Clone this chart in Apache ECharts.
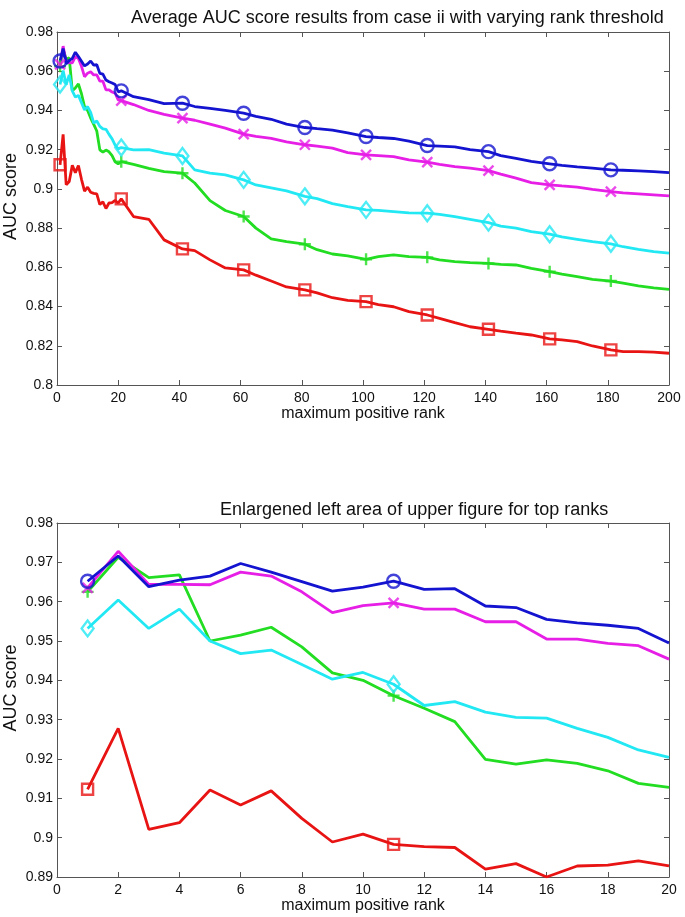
<!DOCTYPE html>
<html>
<head>
<meta charset="utf-8">
<script src="https://cdn.jsdelivr.net/npm/echarts@6/dist/echarts.min.js"></script>
<style>
html,body{margin:0;padding:0;background:#fff;}
#chart{width:685px;height:917px;}
</style>
</head>
<body>
<div id="chart"></div>
<script>
// ---- data ----
// ranks 1..20 (shown in both panels)
var topRanks = [1,2,3,4,5,6,7,8,9,10,11,12,13,14,15,16,17,18,19,20];
var blueTop   = [0.9652,0.9716,0.9638,0.9655,0.9665,0.9697,0.9675,0.9651,0.9627,0.9637,0.9652,0.9631,0.9633,0.9589,0.9585,0.9555,0.9546,0.9540,0.9532,0.9495];
var magentaTop= [0.9635,0.9728,0.9644,0.9644,0.9643,0.9675,0.9665,0.9625,0.9572,0.9590,0.9597,0.9581,0.9581,0.9549,0.9549,0.9505,0.9505,0.9494,0.9488,0.9454];
var cyanTop   = [0.9532,0.9604,0.9532,0.9581,0.9500,0.9468,0.9477,0.9440,0.9403,0.9420,0.9390,0.9336,0.9346,0.9319,0.9306,0.9304,0.9278,0.9255,0.9223,0.9204];
var greenTop  = [0.9625,0.9713,0.9661,0.9668,0.9500,0.9515,0.9535,0.9485,0.9419,0.9400,0.9361,0.9329,0.9295,0.9199,0.9187,0.9198,0.9189,0.9170,0.9138,0.9128];
var redTop    = [0.9123,0.9278,0.9021,0.9038,0.9121,0.9083,0.9119,0.9049,0.8989,0.9009,0.8983,0.8977,0.8975,0.8920,0.8934,0.8900,0.8928,0.8930,0.8941,0.8928];
// ranks beyond 20 (upper panel only)
var restRanks = [21,25,30,35,41,45,50,55,61,65,70,75,81,85,90,95,101,105,110,115,121,125,130,135,141,145,150,155,161,165,170,175,181,185,190,195,200];
var blueRest   = [0.9500,0.9470,0.9455,0.9435,0.9437,0.9420,0.9410,0.9400,0.9386,0.9370,0.9355,0.9330,0.9313,0.9307,0.9300,0.9285,0.9267,0.9262,0.9257,0.9243,0.9221,0.9218,0.9214,0.9200,0.9190,0.9170,0.9155,0.9140,0.9128,0.9120,0.9112,0.9106,0.9097,0.9095,0.9092,0.9088,0.9083];
var magentaRest= [0.9450,0.9430,0.9400,0.9380,0.9361,0.9350,0.9330,0.9310,0.9279,0.9268,0.9258,0.9240,0.9225,0.9218,0.9208,0.9185,0.9173,0.9170,0.9165,0.9148,0.9136,0.9125,0.9114,0.9106,0.9093,0.9075,0.9055,0.9032,0.9020,0.9015,0.9009,0.8998,0.8986,0.8980,0.8975,0.8970,0.8964];
var cyanRest   = [0.9211,0.9199,0.9200,0.9182,0.9168,0.9097,0.9080,0.9071,0.9046,0.9020,0.9005,0.8990,0.8962,0.8950,0.8925,0.8910,0.8893,0.8890,0.8884,0.8878,0.8876,0.8870,0.8859,0.8845,0.8828,0.8810,0.8800,0.8782,0.8769,0.8755,0.8743,0.8731,0.8720,0.8705,0.8692,0.8680,0.8672];
var greenRest  = [0.9139,0.9125,0.9105,0.9088,0.9080,0.9030,0.8940,0.8890,0.8859,0.8800,0.8745,0.8731,0.8718,0.8690,0.8668,0.8658,0.8641,0.8655,0.8663,0.8655,0.8651,0.8638,0.8629,0.8624,0.8620,0.8615,0.8612,0.8595,0.8578,0.8565,0.8553,0.8539,0.8530,0.8520,0.8505,0.8495,0.8488];
var redRest    = [0.8949,0.8859,0.8845,0.8740,0.8694,0.8685,0.8638,0.8597,0.8587,0.8560,0.8530,0.8500,0.8485,0.8470,0.8445,0.8432,0.8425,0.8410,0.8399,0.8374,0.8357,0.8340,0.8318,0.8297,0.8284,0.8275,0.8264,0.8255,0.8235,0.8230,0.8221,0.8199,0.8179,0.8170,0.8170,0.8168,0.8162];
var upperMarkerRanks = [1,21,41,61,81,101,121,141,161,181];
var lowerMarkerRanks = [1,11];
var upperYTicks = {min:0.8, max:0.98, interval:0.02};
var lowerYTicks = {min:0.89, max:0.98, interval:0.01};
var upperXTicks = {min:0, max:200, interval:20};
var lowerXTicks = {min:0, max:20, interval:2};

// ---- styling ----
var FONT = 'Liberation Sans, Arial, Helvetica, sans-serif';
var AXC = '#555';
var seriesDefs = [
  {name:'red',     color:'#e81414', top:redTop,     rest:redRest,     symbol:'rect', size:11},
  {name:'green',   color:'#22dd22', top:greenTop,   rest:greenRest,   symbol:'path://M5,0L5,10M0,5L10,5', size:12},
  {name:'cyan',    color:'#22e8f4', top:cyanTop,    rest:cyanRest,    symbol:'diamond', size:[12,16]},
  {name:'magenta', color:'#e61ee6', top:magentaTop, rest:magentaRest, symbol:'path://M0,0L10,10M10,0L0,10', size:10},
  {name:'blue',    color:'#1414d0', top:blueTop,    rest:blueRest,    symbol:'circle', size:13}
];

function pairs(xs, ys){ return xs.map(function(x,i){ return [x, ys[i]]; }); }
function pick(data, ranks){ return data.filter(function(p){ return ranks.indexOf(p[0]) >= 0; }); }

function xAx(grid, t, pos, labels, name){
  return {
    type:'value', gridIndex:grid, position:pos, min:t.min, max:t.max, interval:t.interval,
    axisLine:{show:true, onZero:false, lineStyle:{color:AXC, width:1}},
    axisTick:{show:true, inside:true, length:5, lineStyle:{color:AXC}},
    axisLabel:{show:labels, margin:6, fontSize:14, color:'#111', fontFamily:FONT},
    splitLine:{show:false},
    name: name || '', nameLocation:'middle', nameGap:20,
    nameTextStyle:{fontSize:16, color:'#111', fontFamily:FONT}
  };
}
function yAx(grid, t, pos, labels, name){
  return {
    type:'value', gridIndex:grid, position:pos, min:t.min, max:t.max, interval:t.interval,
    axisLine:{show:true, onZero:false, lineStyle:{color:AXC, width:1}},
    axisTick:{show:true, inside:true, length:5, lineStyle:{color:AXC}},
    axisLabel:{show:labels, margin:4, fontSize:14, color:'#111', fontFamily:FONT},
    splitLine:{show:false},
    name: name || '', nameLocation:'middle', nameGap:37, nameMoveOverlap:false,
    nameTextStyle:{fontSize:18, color:'#111', fontFamily:FONT, padding:[0,0,0,24]}
  };
}

var series = [];
seriesDefs.forEach(function(d){
  var upper = pairs(topRanks.concat(restRanks), d.top.concat(d.rest));
  var lower = pairs(topRanks, d.top);
  [[0, upper, upperMarkerRanks],[1, lower, lowerMarkerRanks]].forEach(function(g){
    series.push({
      type:'line', xAxisIndex:g[0]*2, yAxisIndex:g[0]*2, data:g[1],
      symbol:'none', lineStyle:{color:d.color, width:2.8}, silent:true, animation:false, z:2
    });
    series.push({
      type:'scatter', xAxisIndex:g[0]*2, yAxisIndex:g[0]*2, data:pick(g[1], g[2]),
      symbol:d.symbol, symbolSize:d.size,
      itemStyle:{color:'transparent', borderColor:d.color, borderWidth:2.4},
      silent:true, animation:false, z:3
    });
  });
});

var chart = echarts.init(document.getElementById('chart'), null, {renderer:'canvas'});
chart.setOption({
  backgroundColor:'#fff',
  animation:false,
  title:[
    {text:'Average AUC score results from case ii with varying rank threshold', left:126, top:4,
     textStyle:{fontSize:18, fontWeight:'normal', color:'#111', fontFamily:FONT}},
    {text:'Enlargened left area of upper figure for top ranks', left:215, top:496,
     textStyle:{fontSize:18, fontWeight:'normal', color:'#111', fontFamily:FONT}}
  ],
  grid:[
    {left:57, right:16, top:32, height:353, containLabel:false, outerBoundsMode:'none'},
    {left:57, right:16, top:523, height:354, containLabel:false, outerBoundsMode:'none'}
  ],
  xAxis:[
    xAx(0, upperXTicks, 'bottom', true, 'maximum positive rank'),
    xAx(0, upperXTicks, 'top', false),
    xAx(1, lowerXTicks, 'bottom', true, 'maximum positive rank'),
    xAx(1, lowerXTicks, 'top', false)
  ],
  yAxis:[
    yAx(0, upperYTicks, 'left', true, 'AUC score'),
    yAx(0, upperYTicks, 'right', false),
    yAx(1, lowerYTicks, 'left', true, 'AUC score'),
    yAx(1, lowerYTicks, 'right', false)
  ],
  series:series
});
</script>
</body>
</html>
